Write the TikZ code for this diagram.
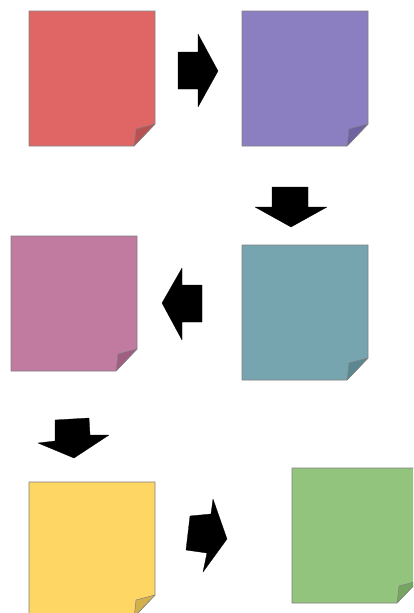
\documentclass[tikz,border=0pt]{standalone}
\definecolor{redN}{HTML}{E06666}\definecolor{redF}{HTML}{B85252}
\definecolor{purN}{HTML}{8B7EC1}\definecolor{purF}{HTML}{6E62A0}
\definecolor{teaN}{HTML}{76A5AF}\definecolor{teaF}{HTML}{5A8791}
\definecolor{pinN}{HTML}{C27BA0}\definecolor{pinF}{HTML}{A05F82}
\definecolor{yelN}{HTML}{FDD663}\definecolor{yelF}{HTML}{D4B04A}
\definecolor{greN}{HTML}{93C47D}\definecolor{greF}{HTML}{76A562}
\definecolor{edgeC}{HTML}{808080}
\tikzset{
  notebody/.style={draw=edgeC, line width=0.7pt, line join=round},
  noteflap/.style={draw=edgeC, line width=0.5pt, line join=round},
  blockarrow/.style={fill=black, draw=black, line width=0.3pt, line join=round}
}
\newcommand\snote[6]{%
  \begin{scope}[shift={(#2,#3)}]
    \coordinate (#1) at (63,67);
    \fill[#5, notebody] (0,0) -- (126,0) -- (126,113) -- (105,135) -- (0,135) -- cycle;
    \fill[#6, noteflap] (105,135) .. controls (106,128) .. (107,118) -- (126,113) -- cycle;
  \end{scope}}
\begin{document}
\begin{tikzpicture}[x=1pt,y=-1pt]
  \useasboundingbox (0,0) rectangle (413,613);
  \clip (0,0) rectangle (413,613);
  \snote{n1}{29}{11}{125}{redN}{redF}
  \snote{n2}{242}{11}{126}{purN}{purF}
  \snote{n3}{242}{245}{126}{teaN}{teaF}
  \snote{n4}{11}{236}{125}{pinN}{pinF}
  \snote{n5}{29}{482}{125}{yelN}{yelF}
  \snote{n6}{292}{468}{126}{greN}{greF}
  % arrows
  \path[blockarrow] (178,52) -- (198,52) -- (198,34) -- (218,71) -- (198,107) -- (198,89) -- (178,89) -- cycle;
  \path[blockarrow] (272,187) -- (308,187) -- (308,207) -- (327,207) -- (291,227) -- (255,207) -- (272,207) -- cycle;
  \path[blockarrow] (202,285) -- (202,322) -- (182,322) -- (182,340) -- (162,303) -- (182,268) -- (182,285) -- cycle;
  \path[blockarrow] (55,420) -- (89,418) -- (90,435) -- (109,435) -- (74,458) -- (38,443) -- (55,441) -- cycle;
  \path[blockarrow] (190,516) -- (211,514) -- (213,499) -- (227,539) -- (203,572) -- (207,553) -- (186,550) -- cycle;
\end{tikzpicture}
\end{document}
